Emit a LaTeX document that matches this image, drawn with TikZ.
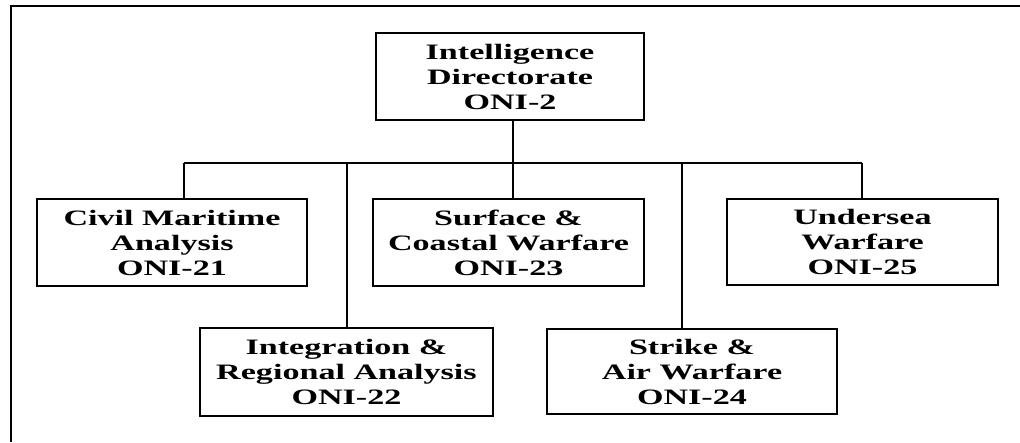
\documentclass[tikz,border=0pt]{standalone}
\usepackage{fontspec}
\setmainfont{Liberation Serif}[FakeStretch=1.55]
\begin{document}
\begin{tikzpicture}[x=1pt,y=-1pt,
  box/.style={draw,line width=2pt,inner sep=0pt,align=center,
    font=\bfseries\fontsize{22}{25}\selectfont},
  link/.style={line width=2pt}]
\useasboundingbox (0,0) rectangle (1020,442);
% frame
\draw[line width=2pt] (11,442) -- (11,6) -- (1020,6);
% boxes
\node[box,minimum width=268pt,minimum height=87pt] (id)  at (510,76.5) {Intelligence\\Directorate\\ONI-2};
\node[box,minimum width=270pt,minimum height=87pt] (cma) at (172,242.5) {Civil Maritime\\Analysis\\ONI-21};
\node[box,minimum width=271pt,minimum height=87pt] (scw) at (508.5,242.5) {Surface \&\\Coastal Warfare\\ONI-23};
\node[box,minimum width=271pt,minimum height=86pt] (uw)  at (862.5,242) {Undersea\\Warfare\\ONI-25};
\node[box,minimum width=293pt,minimum height=88pt] (ira) at (346.5,372) {Integration \&\\Regional Analysis\\ONI-22};
\node[box,minimum width=290pt,minimum height=85pt] (saw) at (692,371.5) {Strike \&\\Air Warfare\\ONI-24};
% bus
\coordinate (bL) at (184,163);
\coordinate (bR) at (862,163);
\coordinate (j1) at (347,163);
\coordinate (j0) at (513,163);
\coordinate (j3) at (682,163);
\draw[link] (bL) -- (bR);
\draw[link] (j0 |- id.south) -- (j0 |- scw.north);
\draw[link] (bL) -- (bL |- cma.north);
\draw[link] (j1) -- (j1 |- ira.north);
\draw[link] (j3) -- (j3 |- saw.north);
\draw[link] (bR) -- (bR |- uw.north);
\end{tikzpicture}
\end{document}
